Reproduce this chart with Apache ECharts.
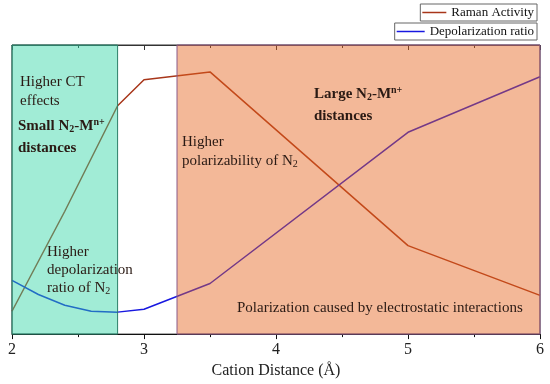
<!DOCTYPE html>
<html>
<head>
<meta charset="utf-8">
<script src="https://cdn.jsdelivr.net/npm/echarts@6/dist/echarts.min.js"></script>
<style>html,body{margin:0;padding:0;background:#fff}#c{width:550px;height:384px}</style>
</head>
<body>
<div id="c"></div>
<script>
const xTicks = [2, 3, 4, 5, 6];
const ramanX = [2.0, 2.4, 2.8, 3.0, 3.5, 5.0, 6.0];
const ramanY = [0.079, 0.425, 0.790, 0.880, 0.907, 0.306, 0.134];
const depolX = [2.0, 2.2, 2.4, 2.6, 2.8, 3.0, 3.5, 5.0, 6.0];
const depolY = [0.186, 0.137, 0.100, 0.079, 0.076, 0.086, 0.175, 0.698, 0.890];
const regionStart = [2.0, 3.25];
const regionEnd = [2.8, 6.0];
const seriesNames = ['Raman Activity', 'Depolarization ratio'];

const FONT = "'Liberation Serif','Times New Roman',serif";
const regionFill = ['rgba(47,213,164,0.45)', 'rgba(229,98,27,0.45)'];
const regionStroke = ['#2c7f68', '#8a5a8a'];

const chart = echarts.init(document.getElementById('c'), null, {renderer: 'canvas'});

function pairs(xs, ys) { return xs.map((x, i) => [x, ys[i]]); }

const txt = '#2a1a14';
const rich = {
  n: {fontFamily: FONT, fontSize: 15, color: txt},
  sub: {fontFamily: FONT, fontSize: 10, color: txt, padding: [7, 0, 0, 0]},
  b: {fontFamily: FONT, fontSize: 15, fontWeight: 'bold', color: txt},
  bsub: {fontFamily: FONT, fontSize: 10, fontWeight: 'bold', color: txt, padding: [7, 0, 0, 0]},
  bsup: {fontFamily: FONT, fontSize: 10, fontWeight: 'bold', color: txt, padding: [0, 0, 7, 0]}
};
function label(x, y, text) {
  return {type: 'text', x: x, y: y, z: 100,
    style: {text: text, rich: rich, fill: txt, font: '15px ' + FONT, verticalAlign: 'middle'}};
}

const legendBase = {padding: [1, 3, 1, 2], borderColor: '#666', borderWidth: 1, icon: 'rect',
  itemHeight: 1.5, textStyle: {fontFamily: FONT, fontSize: 13, color: '#111', lineHeight: 15}, backgroundColor: '#fff'};

chart.setOption({
  animation: false,
  backgroundColor: '#fff',
  grid: {left: 12, right: 10, top: 45, bottom: 48, show: true, borderColor: '#333', borderWidth: 1},
  legend: [
    Object.assign({data: [seriesNames[0]], right: 13, top: 4, itemWidth: 24}, legendBase),
    Object.assign({data: [seriesNames[1]], right: 13, top: 23, itemWidth: 28}, legendBase)
  ],
  xAxis: [
    {type: 'value', min: xTicks[0], max: xTicks[xTicks.length - 1], interval: 1, position: 'bottom',
     axisLine: {lineStyle: {color: '#111', width: 1}},
     axisTick: {show: true, length: 5, lineStyle: {color: '#111'}},
     minorTick: {show: true, splitNumber: 2, length: 3, lineStyle: {color: '#111'}},
     splitLine: {show: false},
     axisLabel: {fontFamily: FONT, fontSize: 16, color: '#222', margin: 8},
     name: 'Cation Distance (Å)', nameLocation: 'middle', nameGap: 23,
     nameTextStyle: {fontFamily: FONT, fontSize: 16, color: '#222'}},
    {type: 'value', min: xTicks[0], max: xTicks[xTicks.length - 1], interval: 1, position: 'top',
     axisLine: {lineStyle: {color: '#333', width: 1}},
     axisTick: {show: true, inside: true, length: 5, lineStyle: {color: '#333'}},
     minorTick: {show: true, splitNumber: 2, length: 3, lineStyle: {color: '#333'}},
     splitLine: {show: false}, axisLabel: {show: false}}
  ],
  yAxis: {type: 'value', min: 0, max: 1, show: false, splitLine: {show: false}},
  series: [
    {name: seriesNames[0], type: 'line', data: pairs(ramanX, ramanY), symbol: 'none', showSymbol: false,
     lineStyle: {color: '#a8361a', width: 1.5}, itemStyle: {color: '#a8361a'}, z: 2},
    {name: seriesNames[1], type: 'line', data: pairs(depolX, depolY), symbol: 'none', showSymbol: false,
     lineStyle: {color: '#1818e0', width: 1.5}, itemStyle: {color: '#1818e0'}, z: 2},
    {type: 'custom', z: 10, silent: true,
     data: regionStart.map((s, i) => [s, regionEnd[i], i]),
     encode: {x: [0, 1]},
     renderItem: function (params, api) {
       const i = api.value(2);
       const p0 = api.coord([api.value(0), 1]);
       const p1 = api.coord([api.value(1), 0]);
       return {type: 'rect', shape: {x: p0[0], y: p0[1], width: p1[0] - p0[0], height: p1[1] - p0[1]},
         style: {fill: regionFill[i], stroke: regionStroke[i], lineWidth: 1}};
     }}
  ],
  graphic: [
    label(20, 82, '{n|Higher CT}'),
    label(20, 101, '{n|effects}'),
    label(18, 126, '{b|Small N}{bsub|2}{b|-M}{bsup|n+}'),
    label(18, 148, '{b|distances}'),
    label(47, 252, '{n|Higher}'),
    label(47, 270, '{n|depolarization}'),
    label(47, 288, '{n|ratio of N}{sub|2}'),
    label(182, 142, '{n|Higher}'),
    label(182, 161, '{n|polarizability of N}{sub|2}'),
    label(314, 94, '{b|Large N}{bsub|2}{b|-M}{bsup|n+}'),
    label(314, 116, '{b|distances}'),
    label(237, 308, '{n|Polarization caused by electrostatic interactions}')
  ]
});
</script>
</body>
</html>
